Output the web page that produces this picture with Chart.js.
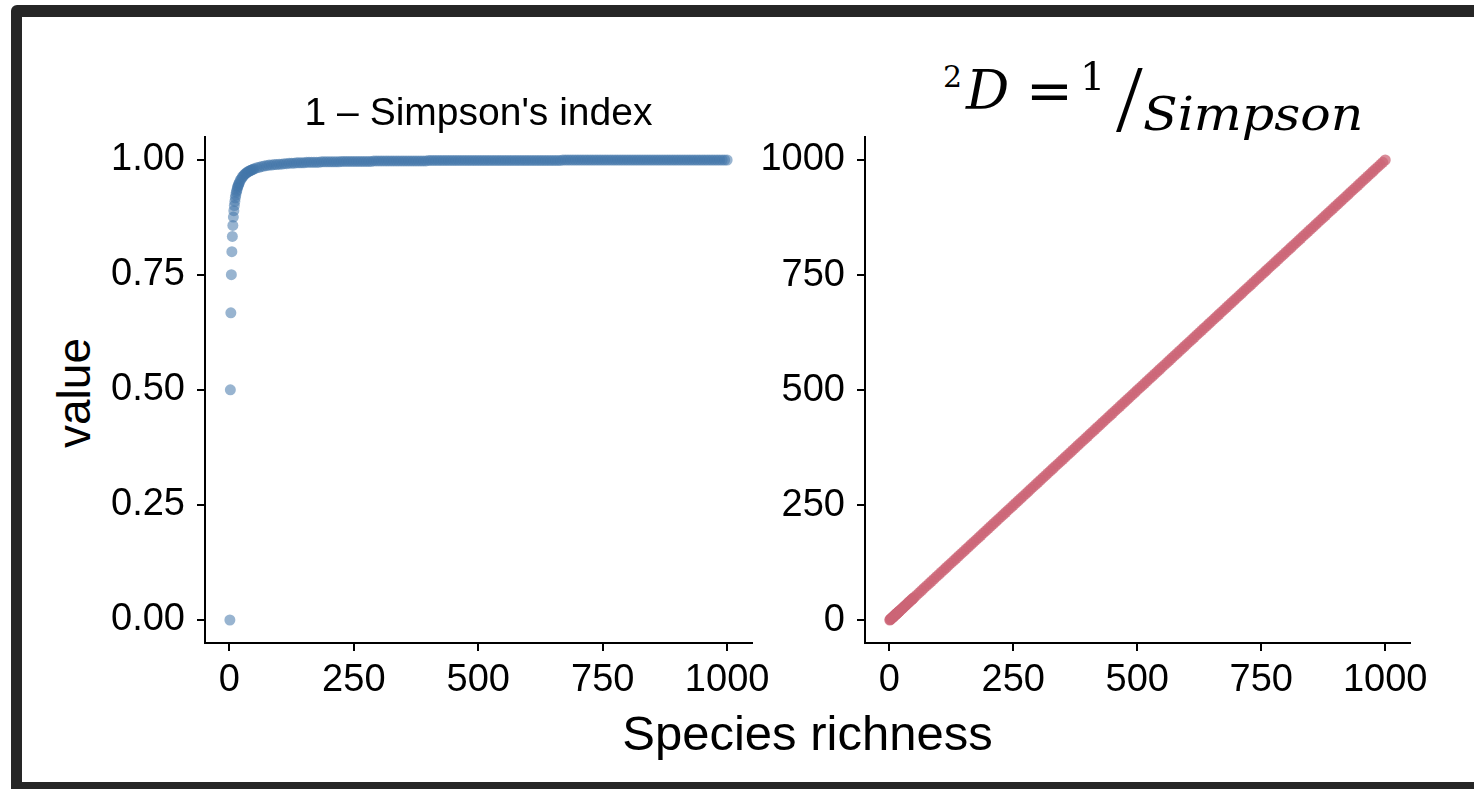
<!DOCTYPE html>
<html>
<head>
<meta charset="utf-8">
<script src="https://cdn.jsdelivr.net/npm/chart.js@4.4.1/dist/chart.umd.min.js"></script>
<style>
  html, body { margin: 0; padding: 0; background: #fff; overflow: hidden; }
  body { width: 1474px; height: 789px; position: relative; font-family: "Liberation Sans", Arial, sans-serif; color: #000; }
  #frame { position: absolute; left: 11px; top: 5px; width: 1490px; height: 789px; box-sizing: border-box;
           border: 12px solid #262626; border-left-width: 11px; border-radius: 6px; }
  .box { position: absolute; }
  .lbl { position: absolute; line-height: 1; white-space: nowrap; }
  #leftTitle { left: 205px; width: 547px; top: 92px; font-size: 39px; text-align: center; }
  #xTitle { left: 205px; width: 1205px; top: 709px; font-size: 49px; text-align: center; }
  #yTitle { left: -26px; top: 370px; width: 200px; height: 46px; font-size: 46px; text-align: center; transform: rotate(-90deg); }
  .math { font-family: "DejaVu Serif", serif; }
  .it { font-style: italic; }
</style>
</head>
<body>
<div id="frame"></div>

<div class="box" style="left:100px; top:97px; width:692px; height:606px"><canvas id="simpsonChart"></canvas></div>
<div class="box" style="left:760px; top:97px; width:690px; height:606px"><canvas id="inverseChart"></canvas></div>

<div id="leftTitle" class="lbl">1 – Simpson's index</div>
<div id="yTitle" class="lbl">value</div>
<div id="xTitle" class="lbl">Species richness</div>

<!-- 2D = 1/Simpson -->
<span class="lbl math" style="left:943px; top:62px; font-size:30px">2</span>
<span class="lbl math it" style="left:966px; top:64px; font-size:54px">D</span>
<span class="lbl math" style="left:1026px; top:63px; font-size:56px">=</span>
<span class="lbl math" style="left:1080px; top:56px; font-size:40px">1</span>
<span class="lbl" style="left:1116px; top:51px; font-size:96px; font-family:'Liberation Serif', serif">/</span>
<span class="lbl math it" style="left:1143px; top:91px; font-size:46px; transform:scaleX(1.1); transform-origin:left">Simpson</span>

<script>
// Species richness (number of equally abundant species)
const richness = [
  1, 2, 3, 4, 5, 6, 7, 8, 9, 10, 11, 12, 13, 14, 15, 16, 17, 18, 19, 20,
  22, 24, 26, 28, 30, 32, 34, 36, 38, 40, 42, 44, 46, 48, 50,
  55, 60, 65, 70, 75, 80, 85, 90, 95, 100,
  105, 110, 115, 120, 125, 130, 135, 140, 145, 150, 155, 160, 165, 170, 175, 180, 185, 190, 195, 200,
  205, 210, 215, 220, 225, 230, 235, 240, 245, 250, 255, 260, 265, 270, 275, 280, 285, 290, 295, 300,
  305, 310, 315, 320, 325, 330, 335, 340, 345, 350, 355, 360, 365, 370, 375, 380, 385, 390, 395, 400,
  405, 410, 415, 420, 425, 430, 435, 440, 445, 450, 455, 460, 465, 470, 475, 480, 485, 490, 495, 500,
  505, 510, 515, 520, 525, 530, 535, 540, 545, 550, 555, 560, 565, 570, 575, 580, 585, 590, 595, 600,
  605, 610, 615, 620, 625, 630, 635, 640, 645, 650, 655, 660, 665, 670, 675, 680, 685, 690, 695, 700,
  705, 710, 715, 720, 725, 730, 735, 740, 745, 750, 755, 760, 765, 770, 775, 780, 785, 790, 795, 800,
  805, 810, 815, 820, 825, 830, 835, 840, 845, 850, 855, 860, 865, 870, 875, 880, 885, 890, 895, 900,
  905, 910, 915, 920, 925, 930, 935, 940, 945, 950, 955, 960, 965, 970, 975, 980, 985, 990, 995, 1000
];

// 1 - Simpson's index
const giniSimpson = [
  0, 0.5, 0.667, 0.75, 0.8, 0.833, 0.857, 0.875, 0.889, 0.9, 0.909, 0.917, 0.923, 0.929, 0.933, 0.938, 0.941, 0.944, 0.947, 0.95,
  0.955, 0.958, 0.962, 0.964, 0.967, 0.969, 0.971, 0.972, 0.974, 0.975, 0.976, 0.977, 0.978, 0.979, 0.98,
  0.982, 0.983, 0.985, 0.986, 0.987, 0.988, 0.988, 0.989, 0.989, 0.99,
  0.99, 0.991, 0.991, 0.992, 0.992, 0.992, 0.993, 0.993, 0.993, 0.993, 0.994, 0.994, 0.994, 0.994, 0.994, 0.994, 0.995, 0.995, 0.995, 0.995,
  0.995, 0.995, 0.995, 0.995, 0.996, 0.996, 0.996, 0.996, 0.996, 0.996, 0.996, 0.996, 0.996, 0.996, 0.996, 0.996, 0.996, 0.997, 0.997, 0.997,
  0.997, 0.997, 0.997, 0.997, 0.997, 0.997, 0.997, 0.997, 0.997, 0.997, 0.997, 0.997, 0.997, 0.997, 0.997, 0.997, 0.997, 0.997, 0.997, 0.998,
  0.998, 0.998, 0.998, 0.998, 0.998, 0.998, 0.998, 0.998, 0.998, 0.998, 0.998, 0.998, 0.998, 0.998, 0.998, 0.998, 0.998, 0.998, 0.998, 0.998,
  0.998, 0.998, 0.998, 0.998, 0.998, 0.998, 0.998, 0.998, 0.998, 0.998, 0.998, 0.998, 0.998, 0.998, 0.998, 0.998, 0.998, 0.998, 0.998, 0.998,
  0.998, 0.998, 0.998, 0.998, 0.998, 0.998, 0.998, 0.998, 0.998, 0.998, 0.998, 0.998, 0.998, 0.999, 0.999, 0.999, 0.999, 0.999, 0.999, 0.999,
  0.999, 0.999, 0.999, 0.999, 0.999, 0.999, 0.999, 0.999, 0.999, 0.999, 0.999, 0.999, 0.999, 0.999, 0.999, 0.999, 0.999, 0.999, 0.999, 0.999,
  0.999, 0.999, 0.999, 0.999, 0.999, 0.999, 0.999, 0.999, 0.999, 0.999, 0.999, 0.999, 0.999, 0.999, 0.999, 0.999, 0.999, 0.999, 0.999, 0.999,
  0.999, 0.999, 0.999, 0.999, 0.999, 0.999, 0.999, 0.999, 0.999, 0.999, 0.999, 0.999, 0.999, 0.999, 0.999, 0.999, 0.999, 0.999, 0.999, 0.999
];

// Inverse Simpson (Hill number of order 2)
const inverseSimpson = [
  1, 2, 3, 4, 5, 6, 7, 8, 9, 10, 11, 12, 13, 14, 15, 16, 17, 18, 19, 20,
  22, 24, 26, 28, 30, 32, 34, 36, 38, 40, 42, 44, 46, 48, 50,
  55, 60, 65, 70, 75, 80, 85, 90, 95, 100,
  105, 110, 115, 120, 125, 130, 135, 140, 145, 150, 155, 160, 165, 170, 175, 180, 185, 190, 195, 200,
  205, 210, 215, 220, 225, 230, 235, 240, 245, 250, 255, 260, 265, 270, 275, 280, 285, 290, 295, 300,
  305, 310, 315, 320, 325, 330, 335, 340, 345, 350, 355, 360, 365, 370, 375, 380, 385, 390, 395, 400,
  405, 410, 415, 420, 425, 430, 435, 440, 445, 450, 455, 460, 465, 470, 475, 480, 485, 490, 495, 500,
  505, 510, 515, 520, 525, 530, 535, 540, 545, 550, 555, 560, 565, 570, 575, 580, 585, 590, 595, 600,
  605, 610, 615, 620, 625, 630, 635, 640, 645, 650, 655, 660, 665, 670, 675, 680, 685, 690, 695, 700,
  705, 710, 715, 720, 725, 730, 735, 740, 745, 750, 755, 760, 765, 770, 775, 780, 785, 790, 795, 800,
  805, 810, 815, 820, 825, 830, 835, 840, 845, 850, 855, 860, 865, 870, 875, 880, 885, 890, 895, 900,
  905, 910, 915, 920, 925, 930, 935, 940, 945, 950, 955, 960, 965, 970, 975, 980, 985, 990, 995, 1000
];

// Tick labels
const richnessTicks = [0, 250, 500, 750, 1000];
const giniTicks = [0, 0.25, 0.5, 0.75, 1];
const inverseTicks = [0, 250, 500, 750, 1000];

Chart.defaults.font.family = '"Liberation Sans", Arial, sans-serif';
Chart.defaults.color = '#000';

function toPoints(xs, ys) {
  return xs.map((x, i) => ({ x: x, y: ys[i] }));
}

// Shared axis look: black axis line, outward ticks, no grid
function axisOptions(min, max, tickValues, format, isX) {
  return {
    type: 'linear',
    min: min,
    max: max,
    afterBuildTicks: scale => { scale.ticks = tickValues.map(v => ({ value: v })); },
    afterFit: scale => {
      if (isX) scale.height = 60;
      else scale.width = 105;
    },
    grid: { drawOnChartArea: false, drawTicks: true, tickLength: 8, color: '#000', lineWidth: 2 },
    border: { display: true, color: '#000', width: 2 },
    ticks: {
      color: '#000',
      font: { size: 38 },
      padding: isX ? 7 : 12,
      maxRotation: 0,
      autoSkip: false,
      callback: format
    }
  };
}

function panelOptions(yAxis) {
  return {
    responsive: true,
    maintainAspectRatio: false,
    animation: false,
    layout: { padding: { top: 40, right: 40, left: 0, bottom: 0 } },
    plugins: { legend: { display: false }, tooltip: { enabled: false } },
    scales: {
      x: axisOptions(-48.95, 1049.95, richnessTicks, v => String(v), true),
      y: yAxis
    }
  };
}

// ========== 1 - Simpson ==========
new Chart(document.getElementById('simpsonChart'), {
  type: 'scatter',
  data: {
    datasets: [{
      data: toPoints(richness, giniSimpson),
      backgroundColor: 'rgba(68, 119, 170, 0.55)',
      borderWidth: 0,
      pointRadius: 5.5,
      pointHoverRadius: 5.5,
      clip: false
    }]
  },
  options: panelOptions(axisOptions(-0.04995, 1.04895, giniTicks, v => v.toFixed(2), false))
});

// ========== 1 / Simpson ==========
new Chart(document.getElementById('inverseChart'), {
  type: 'scatter',
  data: {
    datasets: [{
      data: toPoints(richness, inverseSimpson),
      backgroundColor: 'rgba(204, 102, 119, 0.75)',
      borderWidth: 0,
      pointRadius: 5.5,
      pointHoverRadius: 5.5,
      clip: false
    }]
  },
  options: panelOptions(axisOptions(-48.95, 1049.95, inverseTicks, v => String(v), false))
});
</script>
</body>
</html>
